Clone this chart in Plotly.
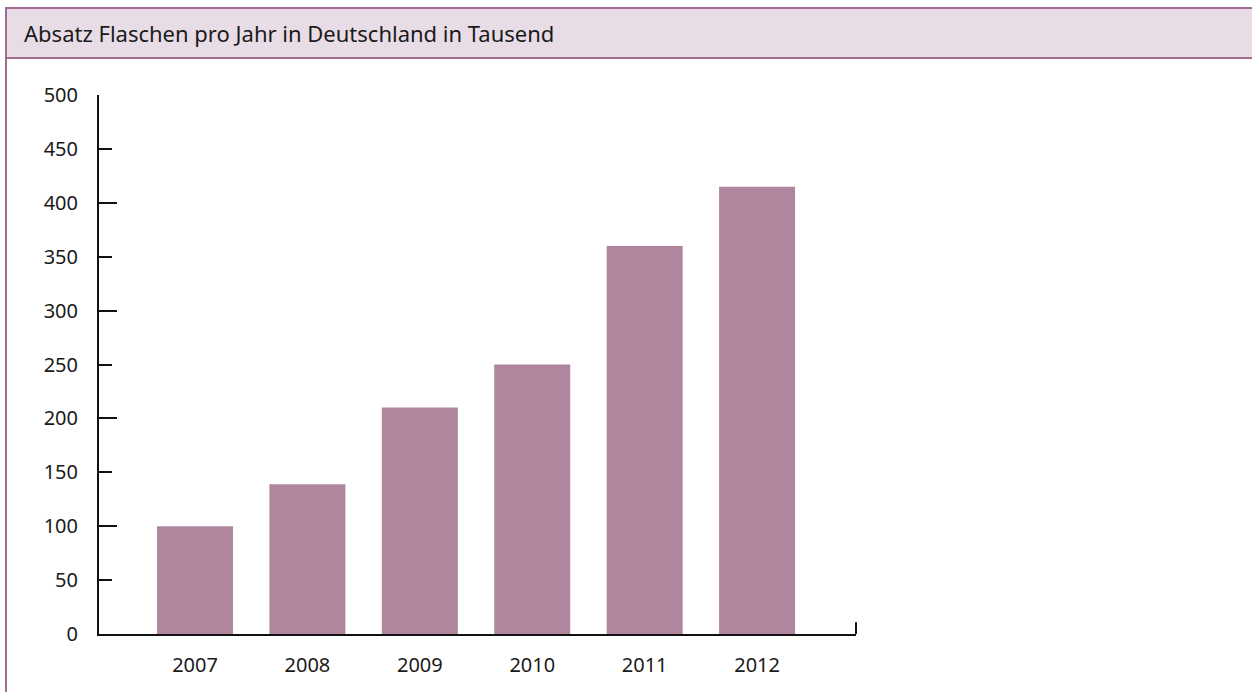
import plotly.graph_objects as go

years = ["2007", "2008", "2009", "2010", "2011", "2012"]
absatz = [100, 139, 210, 250, 360, 415]
y_ticks = [0, 50, 100, 150, 200, 250, 300, 350, 400, 450, 500]
y_long_ticks = [0, 100, 200, 300, 400, 500]

title_text = "Absatz Flaschen pro Jahr in Deutschland in Tausend"

W, H = 1252, 692
L, R, T, B = 99, 1252 - 856, 95, 692 - 634
PW, PH = W - L - R, H - T - B


def px_x(p):
    return (p - L) / PW


def px_y(p):
    return (H - p - B) / PH


fig = go.Figure()
fig.add_trace(go.Bar(
    x=years, y=absatz,
    marker=dict(color="#b0869f", line=dict(width=0)),
    width=0.676,
    hoverinfo="x+y",
))
# invisible helper trace so the overlay axis (long ticks) is drawn
fig.add_trace(go.Scatter(x=[years[0]], y=[0], yaxis="y2", mode="markers",
                         marker=dict(opacity=0), hoverinfo="skip", showlegend=False))

border = "#a46b92"
fig.update_layout(
    width=W, height=H,
    margin=dict(l=L, r=R, t=T, b=B, pad=0),
    paper_bgcolor="white", plot_bgcolor="white",
    showlegend=False,
    font=dict(family="Noto Sans", size=20, color="#1a1a1a"),
    xaxis=dict(
        type="category",
        range=[-0.854, 5.88],
        showgrid=False, zeroline=False,
        showline=True, linecolor="#111", linewidth=2,
        ticks="", ticklabelstandoff=12,
        tickfont=dict(size=20),
    ),
    yaxis=dict(
        range=[0, 500],
        tickvals=y_ticks,
        ticktext=[str(v) for v in y_ticks],
        showgrid=False, zeroline=False,
        showline=True, linecolor="#111", linewidth=2,
        ticks="inside", ticklen=13, tickwidth=2, tickcolor="#111",
        ticklabelstandoff=15,
        tickfont=dict(size=20),
    ),
    yaxis2=dict(
        range=[0, 500], overlaying="y", side="left",
        tickvals=y_long_ticks, showticklabels=False,
        showgrid=False, zeroline=False, showline=False,
        ticks="inside", ticklen=18, tickwidth=2, tickcolor="#111",
    ),
    shapes=[
        # header band
        dict(type="rect", xref="paper", yref="paper",
             x0=px_x(6), x1=px_x(W + 10),
             y0=px_y(58), y1=px_y(8),
             fillcolor="#e8dce6", line=dict(color=border, width=2), layer="below"),
        # left frame line
        dict(type="line", xref="paper", yref="paper",
             x0=px_x(6), x1=px_x(6),
             y0=px_y(58), y1=px_y(H + 10),
             line=dict(color=border, width=2)),
        # end tick on x axis
        dict(type="line", xref="paper", yref="y",
             x0=1, x1=1, y0=0, y1=11,
             line=dict(color="#111", width=2)),
    ],
    annotations=[
        dict(text=title_text, xref="paper", yref="paper",
             x=px_x(22), y=px_y(33),
             xanchor="left", yanchor="middle", showarrow=False,
             font=dict(family="Noto Sans", size=22, color="#1a1a1a")),
    ],
)

fig.write_html("out.html",
               config={"displayModeBar": False},
               post_script="document.body.style.margin='0';document.body.style.overflow='hidden';")
